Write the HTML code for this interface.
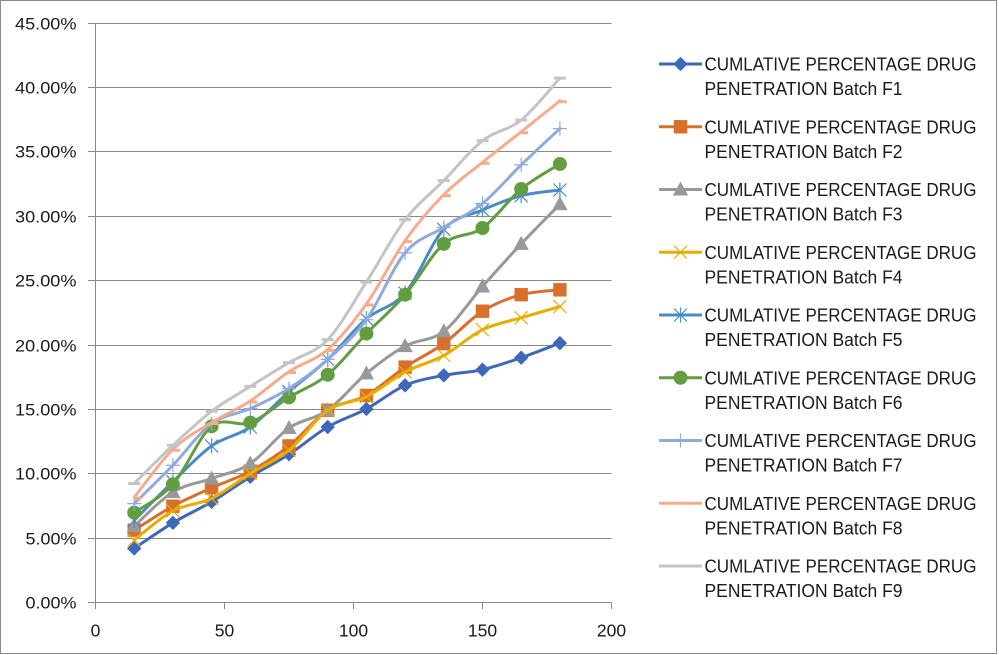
<!DOCTYPE html>
<html><head><meta charset="utf-8">
<style>
html,body{margin:0;padding:0;background:#fff;}
svg{display:block;}
text{font-family:"Liberation Sans",Arial,sans-serif;fill:#1a1a1a;}
</style></head>
<body>
<svg id="c" width="999" height="655" viewBox="0 0 999 655" xmlns="http://www.w3.org/2000/svg">
<rect x="0" y="0" width="999" height="655" fill="#fff"/>
<rect x="0.5" y="0.5" width="996" height="653" fill="none" stroke="#8a8a8a" stroke-width="1"/>
<g stroke="#898989" stroke-width="1" fill="none">
<line x1="88" y1="23.5" x2="611.5" y2="23.5"/>
<line x1="88" y1="87.5" x2="611.5" y2="87.5"/>
<line x1="88" y1="151.5" x2="611.5" y2="151.5"/>
<line x1="88" y1="216.5" x2="611.5" y2="216.5"/>
<line x1="88" y1="280.5" x2="611.5" y2="280.5"/>
<line x1="88" y1="345.5" x2="611.5" y2="345.5"/>
<line x1="88" y1="409.5" x2="611.5" y2="409.5"/>
<line x1="88" y1="473.5" x2="611.5" y2="473.5"/>
<line x1="88" y1="538.5" x2="611.5" y2="538.5"/>
<line x1="88" y1="602.5" x2="611.5" y2="602.5"/>
<line x1="95.5" y1="23" x2="95.5" y2="609"/>
<line x1="224.5" y1="602.5" x2="224.5" y2="609"/>
<line x1="353.5" y1="602.5" x2="353.5" y2="609"/>
<line x1="482.5" y1="602.5" x2="482.5" y2="609"/>
<line x1="611.5" y1="602.5" x2="611.5" y2="609"/>
</g>
<g font-size="16.5" text-anchor="end">
<text x="76.5" y="29.5" textLength="61.5" lengthAdjust="spacingAndGlyphs">45.00%</text>
<text x="76.5" y="93.5" textLength="61.5" lengthAdjust="spacingAndGlyphs">40.00%</text>
<text x="76.5" y="157.5" textLength="61.5" lengthAdjust="spacingAndGlyphs">35.00%</text>
<text x="76.5" y="222.5" textLength="61.5" lengthAdjust="spacingAndGlyphs">30.00%</text>
<text x="76.5" y="286.5" textLength="61.5" lengthAdjust="spacingAndGlyphs">25.00%</text>
<text x="76.5" y="351.5" textLength="61.5" lengthAdjust="spacingAndGlyphs">20.00%</text>
<text x="76.5" y="415.5" textLength="61.5" lengthAdjust="spacingAndGlyphs">15.00%</text>
<text x="76.5" y="479.5" textLength="61.5" lengthAdjust="spacingAndGlyphs">10.00%</text>
<text x="76.5" y="544.5" textLength="51" lengthAdjust="spacingAndGlyphs">5.00%</text>
<text x="76.5" y="608.5" textLength="51" lengthAdjust="spacingAndGlyphs">0.00%</text>
</g>
<g font-size="17.5" text-anchor="middle">
<text x="95.5" y="636.5">0</text>
<text x="224.5" y="636.5">50</text>
<text x="353.5" y="636.5">100</text>
<text x="482.5" y="636.5">150</text>
<text x="611.5" y="636.5">200</text>
</g>
<g id="series"></g>
<g id="legmark"></g>
<g font-size="18">
<text x="704.5" y="70.5" textLength="272" lengthAdjust="spacingAndGlyphs">CUMLATIVE PERCENTAGE DRUG</text>
<text x="704.5" y="95" textLength="198" lengthAdjust="spacingAndGlyphs">PENETRATION Batch F1</text>
<text x="704.5" y="133.25" textLength="272" lengthAdjust="spacingAndGlyphs">CUMLATIVE PERCENTAGE DRUG</text>
<text x="704.5" y="157.75" textLength="198" lengthAdjust="spacingAndGlyphs">PENETRATION Batch F2</text>
<text x="704.5" y="196" textLength="272" lengthAdjust="spacingAndGlyphs">CUMLATIVE PERCENTAGE DRUG</text>
<text x="704.5" y="220.5" textLength="198" lengthAdjust="spacingAndGlyphs">PENETRATION Batch F3</text>
<text x="704.5" y="258.75" textLength="272" lengthAdjust="spacingAndGlyphs">CUMLATIVE PERCENTAGE DRUG</text>
<text x="704.5" y="283.25" textLength="198" lengthAdjust="spacingAndGlyphs">PENETRATION Batch F4</text>
<text x="704.5" y="321.5" textLength="272" lengthAdjust="spacingAndGlyphs">CUMLATIVE PERCENTAGE DRUG</text>
<text x="704.5" y="346" textLength="198" lengthAdjust="spacingAndGlyphs">PENETRATION Batch F5</text>
<text x="704.5" y="384.25" textLength="272" lengthAdjust="spacingAndGlyphs">CUMLATIVE PERCENTAGE DRUG</text>
<text x="704.5" y="408.75" textLength="198" lengthAdjust="spacingAndGlyphs">PENETRATION Batch F6</text>
<text x="704.5" y="447" textLength="272" lengthAdjust="spacingAndGlyphs">CUMLATIVE PERCENTAGE DRUG</text>
<text x="704.5" y="471.5" textLength="198" lengthAdjust="spacingAndGlyphs">PENETRATION Batch F7</text>
<text x="704.5" y="509.75" textLength="272" lengthAdjust="spacingAndGlyphs">CUMLATIVE PERCENTAGE DRUG</text>
<text x="704.5" y="534.25" textLength="198" lengthAdjust="spacingAndGlyphs">PENETRATION Batch F8</text>
<text x="704.5" y="572.5" textLength="272" lengthAdjust="spacingAndGlyphs">CUMLATIVE PERCENTAGE DRUG</text>
<text x="704.5" y="597" textLength="198" lengthAdjust="spacingAndGlyphs">PENETRATION Batch F9</text>
</g>
</svg>
<script>
(function(){
var xs=[15,30,45,60,75,90,105,120,135,150,165,180];
var S=[
{c:"#4068B8",m:"diamond",d:[4.22,6.21,7.84,9.78,11.53,13.65,15.05,16.88,17.66,18.1,19.03,20.16]},
{c:"#D8702C",m:"square",d:[5.64,7.5,8.92,10.22,12.18,14.95,16.1,18.3,20.12,22.64,23.92,24.3]},
{c:"#999999",m:"triangle",d:[5.95,8.6,9.65,10.81,13.57,14.95,17.8,19.93,21.07,24.56,27.87,30.95]},
{c:"#E9AC00",m:"x",d:[4.87,7.14,8.1,10.04,11.84,14.95,16.0,17.92,19.2,21.2,22.13,23.0]},
{c:"#4A8AC6",m:"star",d:[6.4,9.4,12.18,13.65,16.4,18.9,22.05,24.04,29.0,30.5,31.61,32.05]},
{c:"#629E3F",m:"circle",d:[7.0,9.19,13.7,13.99,15.95,17.71,20.9,23.92,27.87,29.1,32.13,34.07]},
{c:"#8FAADC",m:"plus",d:[7.7,10.68,13.9,15.08,16.65,18.9,21.98,27.17,29.15,31.0,34.0,36.82]},
{c:"#F3AC8C",m:"dash",d:[8.18,11.92,14.0,15.67,17.95,19.67,23.2,28.12,31.69,34.2,36.57,38.98]},
{c:"#C4C4C4",m:"ldash",d:[9.26,12.23,14.87,16.8,18.65,20.43,24.9,29.74,32.78,35.88,37.48,40.74]}
];
function X(v){return 95.5+v*2.58;}
function Y(p){return 602.8-p*12.88;}
function f(n){return n.toFixed(2);}
function smooth(p){
 var d="M"+f(p[0][0])+","+f(p[0][1]);
 for(var i=0;i<p.length-1;i++){
  var p0=p[i-1]||p[i],p1=p[i],p2=p[i+1],p3=p[i+2]||p[i+1];
  var c1x=p1[0]+(p2[0]-p0[0])/6,c1y=p1[1]+(p2[1]-p0[1])/6;
  var c2x=p2[0]-(p3[0]-p1[0])/6,c2y=p2[1]-(p3[1]-p1[1])/6;
  d+=" C"+f(c1x)+","+f(c1y)+" "+f(c2x)+","+f(c2y)+" "+f(p2[0])+","+f(p2[1]);
 }
 return d;
}
function marker(t,x,y,c){
 switch(t){
 case "diamond": return '<path d="M'+x+','+(y-6.5)+' L'+(x+6.5)+','+y+' L'+x+','+(y+6.5)+' L'+(x-6.5)+','+y+'Z" fill="'+c+'" stroke="'+c+'" stroke-width="1"/>';
 case "square": return '<rect x="'+(x-6.2)+'" y="'+(y-6.2)+'" width="12.4" height="12.4" fill="'+c+'" stroke="'+c+'" stroke-width="1"/>';
 case "triangle": return '<path d="M'+x+','+(y-7)+' L'+(x+6.8)+','+(y+5.5)+' L'+(x-6.8)+','+(y+5.5)+'Z" fill="'+c+'" stroke="'+c+'" stroke-width="1"/>';
 case "circle": return '<circle cx="'+x+'" cy="'+y+'" r="6.5" fill="'+c+'" stroke="'+c+'" stroke-width="1"/>';
 case "x": return '<path d="M'+(x-6.5)+','+(y-6.5)+' L'+(x+6.5)+','+(y+6.5)+' M'+(x+6.5)+','+(y-6.5)+' L'+(x-6.5)+','+(y+6.5)+'" stroke="'+c+'" stroke-width="1.2" fill="none"/>';
 case "star": return '<path d="M'+(x-6.5)+','+(y-6.5)+' L'+(x+6.5)+','+(y+6.5)+' M'+(x+6.5)+','+(y-6.5)+' L'+(x-6.5)+','+(y+6.5)+' M'+x+','+(y-7.5)+' L'+x+','+(y+7.5)+'" stroke="'+c+'" stroke-width="1.2" fill="none"/>';
 case "plus": return '<path d="M'+(x-7)+','+y+' L'+(x+7)+','+y+' M'+x+','+(y-7)+' L'+x+','+(y+7)+'" stroke="'+c+'" stroke-width="1.2" fill="none"/>';
 case "dash": return '<rect x="'+(x)+'" y="'+(y-0.5)+'" width="7" height="3" fill="'+c+'"/>';
 case "ldash": return '<rect x="'+(x-6)+'" y="'+(y-1.5)+'" width="12" height="3" fill="'+c+'"/>';
 }
 return "";
}
var out="";
S.forEach(function(s){
 var pts=xs.map(function(v,i){return [X(v),Y(s.d[i])];});
 out+='<path d="'+smooth(pts)+'" fill="none" stroke="'+s.c+'" stroke-width="3" stroke-linejoin="round" stroke-linecap="round"/>';
 pts.forEach(function(p){out+=marker(s.m,p[0],p[1],s.c);});
});
document.getElementById("series").innerHTML=out;
var lg="";
S.forEach(function(s,i){
 var y=64+i*62.75;
 lg+='<line x1="659" y1="'+y+'" x2="702" y2="'+y+'" stroke="'+s.c+'" stroke-width="3"/>';
 if(s.m!=="dash"&&s.m!=="ldash") lg+=marker(s.m,680.5,y,s.c);
});
document.getElementById("legmark").innerHTML=lg;
})();
</script>
</body></html>
